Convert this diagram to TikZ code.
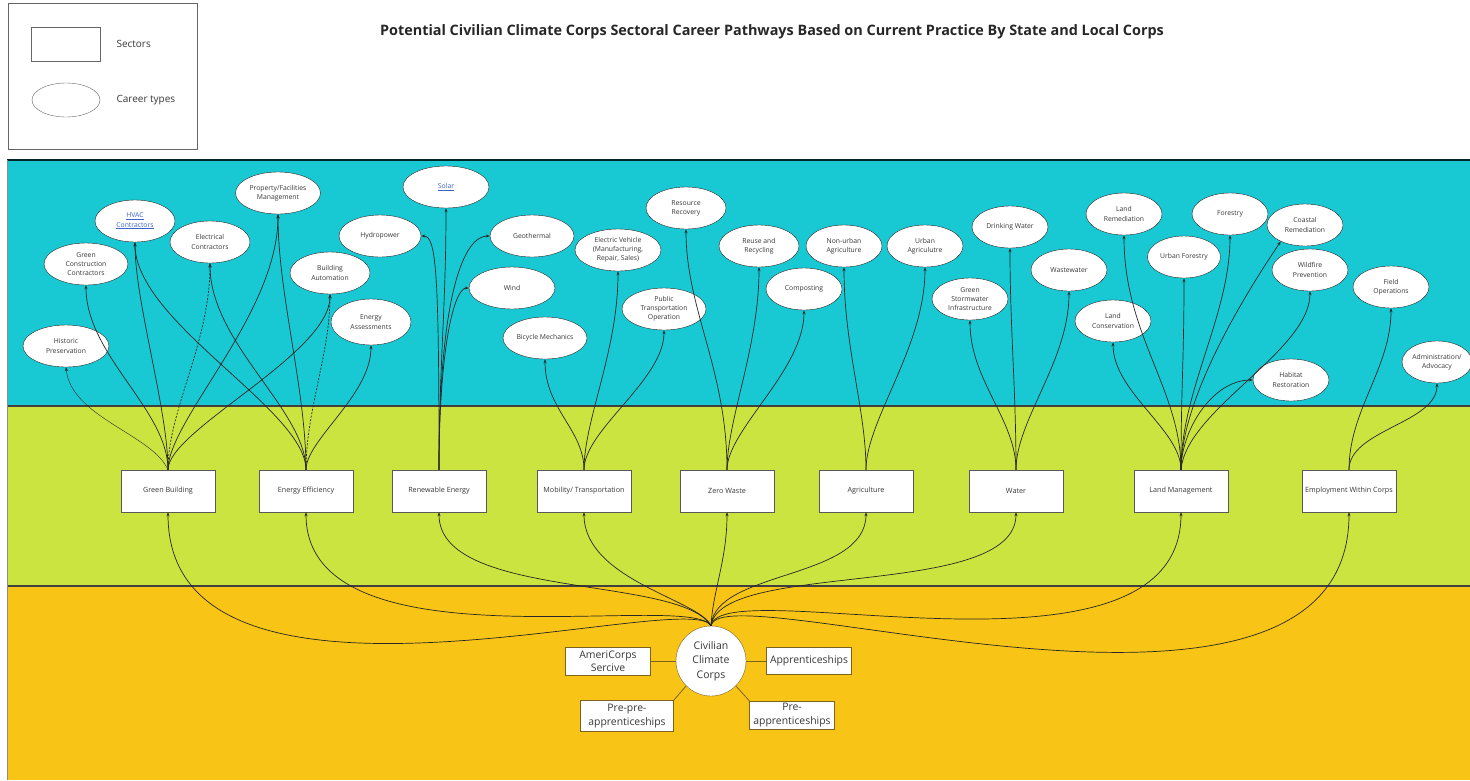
\documentclass[tikz,border=0pt]{standalone}
\usepackage{fontspec}
\setmainfont{Open Sans}
\usepackage{tikz}
\usetikzlibrary{shapes.geometric}
\usetikzlibrary{arrows.meta}
\definecolor{bandcyan}{RGB}{24,201,211}
\definecolor{bandlime}{RGB}{204,228,64}
\definecolor{bandorange}{RGB}{248,196,21}
\definecolor{inktext}{RGB}{55,55,55}
\definecolor{linkblue}{RGB}{60,100,200}
\definecolor{corpsbrown}{RGB}{125,98,30}
\tikzstyle{sector} = [draw=black!65, fill=white, minimum width=94pt, minimum height=42pt, inner sep=1pt, text=inktext, font=\fontsize{7.2}{8}\selectfont]
\tikzstyle{career} = [ellipse, draw=black!85, fill=white, minimum width=76pt, minimum height=42pt, inner sep=0pt, align=center, text=inktext, font=\fontsize{6.8}{9.2}\selectfont]
\tikzstyle{arrow} = [->, >={Stealth[length=4pt,width=3pt]}, line width=0.7pt, black!85]
\tikzstyle{corpsbox} = [draw=corpsbrown, fill=white, align=center, text=inktext, font=\fontsize{10.4}{13.5}\selectfont, inner sep=1pt]

\begin{document}
\begin{tikzpicture}[x=1pt,y=-1pt]
\useasboundingbox (0,0) rectangle (1470,780);

% bands
\fill[bandcyan] (7,160) rectangle (1470,406);
\fill[bandlime] (7,406) rectangle (1470,586);
\fill[bandorange] (7,586) rectangle (1470,780);
\draw[line width=1.2pt, black!70!teal] (7,160) -- (1470,160);
\draw[line width=1.5pt, black!75] (7,406) -- (1470,406);
\draw[line width=1.5pt, black!75] (7,586) -- (1470,586);
\draw[line width=0.8pt, black!45] (7,160) -- (7,780);

% legend
\draw[black!60, line width=0.7pt] (8,3) rectangle (197,149);
\node[draw=black!60, minimum width=69pt, minimum height=34pt] (keysector) at (66,44) {};
\node[ellipse, draw=black!60, minimum width=68pt, minimum height=34pt] (keycareer) at (66,100) {};
\node[anchor=west, text=inktext, font=\fontsize{10}{12}\selectfont] (keysectortext) at (113,44) {Sectors};
\node[anchor=west, text=inktext, font=\fontsize{10}{12}\selectfont] (keycareertext) at (113,100) {Career types};

% title
\node[font=\bfseries\fontsize{14.4}{16}\selectfont, text=black!85] (title) at (772,32) {Potential Civilian Climate Corps Sectoral Career Pathways Based on Current Practice By State and Local Corps};

% sectors
\node[sector] (gb) at (168,491) {Green Building};
\node[sector] (ee) at (306,491) {Energy Efficiency};
\node[sector] (re) at (439,491) {Renewable Energy};
\node[sector] (mob) at (584,491) {Mobility/ Transportation};
\node[sector] (zw) at (727,491) {Zero Waste};
\node[sector] (agr) at (866,491) {Agriculture};
\node[sector] (wat) at (1016,491) {Water};
\node[sector] (lm) at (1181,491) {Land Management};
\node[sector] (ewc) at (1349,491) {Employment Within Corps};

% career types
\node[career, minimum width=86pt] (hp) at (66,346) {Historic\\Preservation};
\node[career, minimum width=84pt] (gcc) at (86,264) {Green\\Construction\\Contractors};
\node[career, minimum width=80pt, text=linkblue] (hvac) at (135,221) {\underline{HVAC}\\\underline{Contractors}};
\node[career, minimum width=80pt] (ec) at (210,242) {Electrical\\Contractors};
\node[career, minimum width=85pt] (pfm) at (278,193) {Property/Facilities\\Management};
\node[career, minimum width=80pt] (ba) at (330,273) {Building\\Automation};
\node[career, minimum width=80pt, minimum height=46pt] (ea) at (371,322) {Energy\\Assessments};
\node[career, minimum width=82pt] (hydro) at (380,236) {Hydropower};
\node[career, minimum width=86pt, text=linkblue] (solar) at (446,187) {\underline{Solar}};
\node[career, minimum width=84pt] (geo) at (532,236) {Geothermal};
\node[career, minimum width=86pt] (wind) at (512,288) {Wind};
\node[career, minimum width=86pt] (ev) at (618,250) {Electric Vehicle\\(Manufacturing,\\Repair, Sales)};
\node[career, minimum width=84pt] (pto) at (664,309) {Public\\Transportation\\Operation};
\node[career, minimum width=84pt] (bm) at (545,338) {Bicycle Mechanics};
\node[career, minimum width=80pt] (rr) at (686,208) {Resource\\Recovery};
\node[career, minimum width=80pt] (rar) at (759,246) {Reuse and\\Recycling};
\node[career] (comp) at (804,289) {Composting};
\node[career] (nua) at (844,246) {Non-urban\\Agriculture};
\node[career] (ua) at (925,246) {Urban\\Agriculutre};
\node[career] (dw) at (1010,227) {Drinking Water};
\node[career] (ww) at (1069,270) {Wastewater};
\node[career] (gsi) at (970,299) {Green\\Stormwater\\Infrastructure};
\node[career] (lr) at (1124,214) {Land\\Remediation};
\node[career] (lc) at (1113,321) {Land\\Conservation};
\node[career, minimum width=73pt] (uf) at (1184,257) {Urban Forestry};
\node[career] (for) at (1230,214) {Forestry};
\node[career] (cr) at (1305,225) {Coastal\\Remediation};
\node[career] (wp) at (1310,270) {Wildfire\\Prevention};
\node[career] (hr) at (1291,380) {Habitat\\Restoration};
\node[career] (fo) at (1391,287) {Field\\Operations};
\node[career, minimum width=70pt] (aa) at (1437,362) {Administration/\\Advocacy};

% civilian climate corps
\node[circle, draw=corpsbrown, fill=white, minimum size=70pt, inner sep=0pt, align=center, text=inktext, font=\fontsize{10.5}{14.5}\selectfont] (ccc) at (711,661) {Civilian\\Climate\\Corps};
\node[corpsbox, minimum width=85pt, minimum height=28pt] (acs) at (608,661) {AmeriCorps\\Sercive};
\node[corpsbox, minimum width=85pt, minimum height=27pt] (app) at (809,661) {Apprenticeships};
\node[corpsbox, minimum width=93pt, minimum height=31pt] (ppa) at (627,716) {Pre-pre-\\apprenticeships};
\node[corpsbox, minimum width=85pt, minimum height=28pt] (pa) at (792,715) {Pre-\\apprenticeships};
\draw[corpsbrown, line width=0.8pt] (ccc.west) -- (acs.east);
\draw[corpsbrown, line width=0.8pt] (ccc.east) -- (app.west);
\draw[corpsbrown, line width=0.8pt] (ccc.-135) -- (ppa.north east);
\draw[corpsbrown, line width=0.8pt] (ccc.-45) -- (pa.north west);

% corps to sectors
\draw[arrow] (ccc.north) .. controls +(-20,-40) and +(0,235) .. (gb.south);
\draw[arrow] (ccc.north) .. controls +(-21,-36) and +(0,160) .. (ee.south);
\draw[arrow] (ccc.north) .. controls +(-31,-51) and +(0,88) .. (re.south);
\draw[arrow] (ccc.north) .. controls +(-11,-26) and +(0,68) .. (mob.south);
\draw[arrow] (ccc.north) .. controls +(2,-36) and +(0,48) .. (zw.south);
\draw[arrow] (ccc.north) .. controls +(4,-56) and +(0,68) .. (agr.south);
\draw[arrow] (ccc.north) .. controls +(9,-66) and +(0,88) .. (wat.south);
\draw[arrow] (ccc.north) .. controls +(9,-56) and +(0,188) .. (lm.south);
\draw[arrow] (ccc.north) .. controls +(9,-56) and +(0,268) .. (ewc.south);

% green building
\draw[arrow, line width=0.4pt] (gb.north) .. controls +(-15,-35) and +(5,50) .. (hp.south);
\draw[arrow] (gb.north) .. controls +(0,-60) and +(0,70) .. (gcc.south);
\draw[arrow] (gb.north) .. controls +(0,-60) and +(0,60) .. (hvac.south);
\draw[arrow, dash pattern=on 2pt off 1.5pt] (gb.north) .. controls +(0,-60) and +(0,80) .. (ec.south);
\draw[arrow] (gb.north) .. controls +(0,-50) and +(0,100) .. (pfm.south);
\draw[arrow] (gb.north) .. controls +(0,-40) and +(0,60) .. (ba.south);
% energy efficiency
\draw[arrow] (ee.north) .. controls +(0,-60) and +(0,80) .. (hvac.south);
\draw[arrow] (ee.north) .. controls +(0,-60) and +(0,80) .. (ec.south);
\draw[arrow] (ee.north) .. controls +(0,-80) and +(0,80) .. (pfm.south);
\draw[arrow, dash pattern=on 2pt off 1.5pt] (ee.north) .. controls +(0,-60) and +(0,60) .. (ba.south);
\draw[arrow] (ee.north) .. controls +(0,-30) and +(0,50) .. (ea.south);
% renewable energy
\draw[arrow] (re.north) .. controls +(0,-100) and +(0,100) .. (solar.south);
\draw[arrow] (re.north) .. controls +(0,-200) and +(15,0) .. (hydro.east);
\draw[arrow] (re.north) .. controls +(0,-180) and +(-25,0) .. (geo.west);
\draw[arrow] (re.north) .. controls +(0,-120) and +(-15,0) .. (wind.west);
% mobility
\draw[arrow] (mob.north) .. controls +(0,-40) and +(0,50) .. (bm.south);
\draw[arrow] (mob.north) .. controls +(0,-50) and +(0,80) .. (ev.south);
\draw[arrow] (mob.north) .. controls +(0,-40) and +(0,50) .. (pto.south);
% zero waste
\draw[arrow] (zw.north) .. controls +(0,-100) and +(0,80) .. (rr.south);
\draw[arrow] (zw.north) .. controls +(0,-50) and +(0,80) .. (rar.south);
\draw[arrow] (zw.north) .. controls +(0,-40) and +(0,60) .. (comp.south);
% agriculture
\draw[arrow] (agr.north) .. controls +(0,-60) and +(0,80) .. (nua.south);
\draw[arrow] (agr.north) .. controls +(0,-50) and +(0,80) .. (ua.south);
% water
\draw[arrow] (wat.north) .. controls +(0,-50) and +(0,60) .. (gsi.south);
\draw[arrow] (wat.north) .. controls +(0,-80) and +(0,80) .. (dw.south);
\draw[arrow] (wat.north) .. controls +(0,-50) and +(0,70) .. (ww.south);
% land management
\draw[arrow] (lm.north) .. controls +(0,-40) and +(0,50) .. (lc.south);
\draw[arrow] (lm.north) .. controls +(0,-80) and +(0,100) .. (lr.south);
\draw[arrow] (lm.north) .. controls +(0,-80) and +(0,80) .. (uf.south);
\draw[arrow] (lm.north) .. controls +(0,-80) and +(0,80) .. (for.south);
\draw[arrow] (lm.north) .. controls +(0,-80) and +(-20,30) .. (cr.214);
\draw[arrow] (lm.north) .. controls +(5,-60) and +(0,60) .. (wp.south);
\draw[arrow] (lm.north) .. controls +(0,-40) and +(-40,0) .. (hr.west);
% employment within corps
\draw[arrow] (ewc.north) .. controls +(0,-60) and +(0,60) .. (fo.south);
\draw[arrow] (ewc.north) .. controls +(0,-40) and +(0,40) .. (aa.south);
\end{tikzpicture}
\end{document}
